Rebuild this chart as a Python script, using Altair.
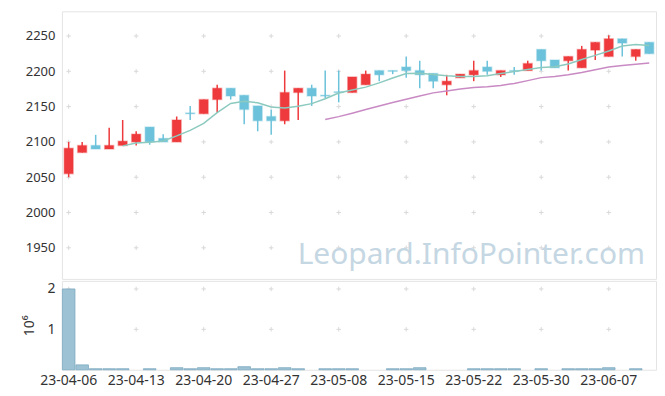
import altair as alt
import pandas as pd

dates = ["23-04-06", "23-04-07", "23-04-10", "23-04-11", "23-04-12", "23-04-13", "23-04-14",
         "23-04-17", "23-04-18", "23-04-19", "23-04-20", "23-04-21", "23-04-24", "23-04-25",
         "23-04-26", "23-04-27", "23-04-28", "23-05-02", "23-05-03", "23-05-04", "23-05-08",
         "23-05-09", "23-05-10", "23-05-11", "23-05-12", "23-05-15", "23-05-16", "23-05-17",
         "23-05-18", "23-05-19", "23-05-22", "23-05-23", "23-05-24", "23-05-25", "23-05-26",
         "23-05-30", "23-05-31", "23-06-01", "23-06-02", "23-06-05", "23-06-07", "23-06-08",
         "23-06-09", "23-06-12"]
opens = [2055, 2085, 2095, 2090, 2095, 2100, 2121, 2105, 2100, 2141, 2140, 2160, 2176, 2166, 2151,
         2136, 2130, 2170, 2176, 2166, 2171, 2170, 2181, 2201, 2201, 2206, 2201, 2197, 2181, 2191,
         2195, 2206, 2195, 2201, 2201, 2231, 2216, 2215, 2205, 2230, 2221, 2246, 2221, 2241]
closes = [2091, 2095, 2090, 2095, 2101, 2111, 2100, 2100, 2131, 2140, 2160, 2176, 2165, 2146, 2130,
          2130, 2170, 2176, 2165, 2165, 2170, 2192, 2196, 2195, 2200, 2201, 2195, 2186, 2186, 2196,
          2201, 2200, 2201, 2200, 2211, 2215, 2205, 2221, 2231, 2241, 2246, 2240, 2231, 2225]
highs = [2100, 2100, 2110, 2120, 2131, 2115, 2121, 2111, 2136, 2151, 2160, 2181, 2176, 2166, 2151,
         2146, 2201, 2176, 2181, 2201, 2201, 2192, 2201, 2201, 2201, 2221, 2215, 2197, 2195, 2196,
         2215, 2215, 2201, 2206, 2215, 2231, 2216, 2221, 2236, 2241, 2251, 2246, 2231, 2241]
lows = [2050, 2085, 2090, 2090, 2095, 2095, 2096, 2100, 2100, 2131, 2140, 2141, 2160, 2125, 2115,
        2110, 2125, 2131, 2151, 2161, 2156, 2170, 2181, 2186, 2196, 2191, 2176, 2176, 2166, 2191,
        2186, 2195, 2192, 2195, 2201, 2201, 2205, 2201, 2205, 2216, 2221, 2221, 2215, 2225]
# volume in millions of shares
volumes_m = [2.0, 0.12, 0.025, 0.025, 0.025, 0.0, 0.025, 0.0, 0.05, 0.025, 0.05, 0.025, 0.025,
             0.075, 0.025, 0.025, 0.05, 0.025, 0.0, 0.025, 0.025, 0.025, 0.0, 0.0, 0.025, 0.025,
             0.05, 0.0, 0.0, 0.0, 0.025, 0.025, 0.025, 0.025, 0.0, 0.025, 0.0, 0.025, 0.025,
             0.025, 0.05, 0.0, 0.025, 0.0]

x_ticks = dates[::5]
price_ticks = [1950, 2000, 2050, 2100, 2150, 2200, 2250]
vol_ticks = [1, 2]
WATERMARK = "Leopard.InfoPointer.com"

W = 595
H_TOP = 268
H_VOL = 89
RED = "#ee3a3c"
BLUE = "#6cc2da"
MA5_COLOR = "#8ccabf"
MA20_COLOR = "#c98ac4"
GRID = "#d9d9d9"
FONT = "Noto Sans"

df = pd.DataFrame({"idx": list(range(len(dates))), "date": dates, "open": opens, "close": closes,
                   "high": highs, "low": lows, "vol": volumes_m})

xscale = alt.Scale(domain=dates, paddingInner=0, paddingOuter=0)
yscale = alt.Scale(domain=[1906, 2285], nice=False, zero=False)
up = "datum.close > datum.open"

base = alt.Chart(df).encode(x=alt.X("date:O", scale=xscale, axis=None, sort=None))

cross_shape = "M-1,0L1,0M0,-1L0,1"
cross_top = alt.Chart(pd.DataFrame([{"date": d, "p": p} for d in x_ticks for p in price_ticks])).mark_point(
    shape=cross_shape, filled=False, size=20, strokeWidth=1, color=GRID, opacity=1
).encode(
    x=alt.X("date:O", scale=xscale, axis=None, sort=None),
    y=alt.Y("p:Q", scale=yscale,
            axis=alt.Axis(values=price_ticks, title=None, labelPadding=7, format="d")),
)

wicks = base.mark_rule(strokeWidth=1.5).encode(
    y=alt.Y("low:Q", scale=yscale),
    y2="high:Q",
    color=alt.when(up).then(alt.value(RED)).otherwise(alt.value(BLUE)),
)
bodies = base.mark_bar(size=9, strokeWidth=1.5, strokeOpacity=0.35).encode(
    y=alt.Y("open:Q", scale=yscale),
    y2="close:Q",
    fill=alt.when(up).then(alt.value(RED)).otherwise(alt.value(BLUE)),
    stroke=alt.when(up).then(alt.value(RED)).otherwise(alt.value(BLUE)),
)
ma5 = base.transform_window(
    ma="mean(close)", cnt="count()", frame=[-4, 0], sort=[alt.SortField("idx")]
).transform_filter("datum.cnt >= 5").mark_line(color=MA5_COLOR, strokeWidth=1.5).encode(
    y=alt.Y("ma:Q", scale=yscale), order="idx:Q"
)
ma20 = base.transform_window(
    ma="mean(close)", cnt="count()", frame=[-19, 0], sort=[alt.SortField("idx")]
).transform_filter("datum.cnt >= 20").mark_line(color=MA20_COLOR, strokeWidth=1.5).encode(
    y=alt.Y("ma:Q", scale=yscale), order="idx:Q"
)
wm = alt.Chart(pd.DataFrame({"t": [WATERMARK]})).mark_text(
    align="right", baseline="alphabetic", fontSize=30, font=FONT, color="#c5d7e3"
).encode(text="t:N", x=alt.value(584), y=alt.value(253))

top = alt.layer(cross_top, wicks, bodies, ma5, ma20, wm).properties(width=W, height=H_TOP)

vscale = alt.Scale(domain=[0, 2.2], nice=False)
cross_vol = alt.Chart(pd.DataFrame([{"date": d, "v": v} for d in x_ticks for v in vol_ticks])).mark_point(
    shape=cross_shape, filled=False, size=20, strokeWidth=1, color=GRID, opacity=1
).encode(
    x=alt.X("date:O", scale=xscale, sort=None,
            axis=alt.Axis(values=x_ticks, labelAngle=0, title=None, labelPadding=4,
                          labelFontSize=14)),
    y=alt.Y("v:Q", scale=vscale,
            axis=alt.Axis(values=vol_ticks, title="10⁶", labelPadding=7, titlePadding=10,
                          labelFontSize=14, titleFontSize=14)),
)
vol_bars = alt.Chart(df).transform_filter("datum.vol > 0").mark_bar(
    size=12.6, fill="#9cc2d4", stroke="#7eaac0", strokeWidth=0.8
).encode(
    x=alt.X("date:O", scale=xscale, sort=None),
    y=alt.Y("vol:Q", scale=vscale),
)
vol = alt.layer(cross_vol, vol_bars).properties(width=W, height=H_VOL)

chart = alt.vconcat(top, vol, spacing=0).properties(
    padding={"left": 14, "top": 2, "right": 0, "bottom": 0}, background="white"
).configure_view(stroke="#e4e4e4").configure_axis(
    domain=False, ticks=False, grid=False, labelFont=FONT, labelFontSize=13,
    labelColor="#333333", titleFont=FONT, titleFontSize=13, titleFontWeight="normal",
    titleColor="#333333"
)

chart.save("out.html", embed_options={"renderer": "svg", "actions": False})
